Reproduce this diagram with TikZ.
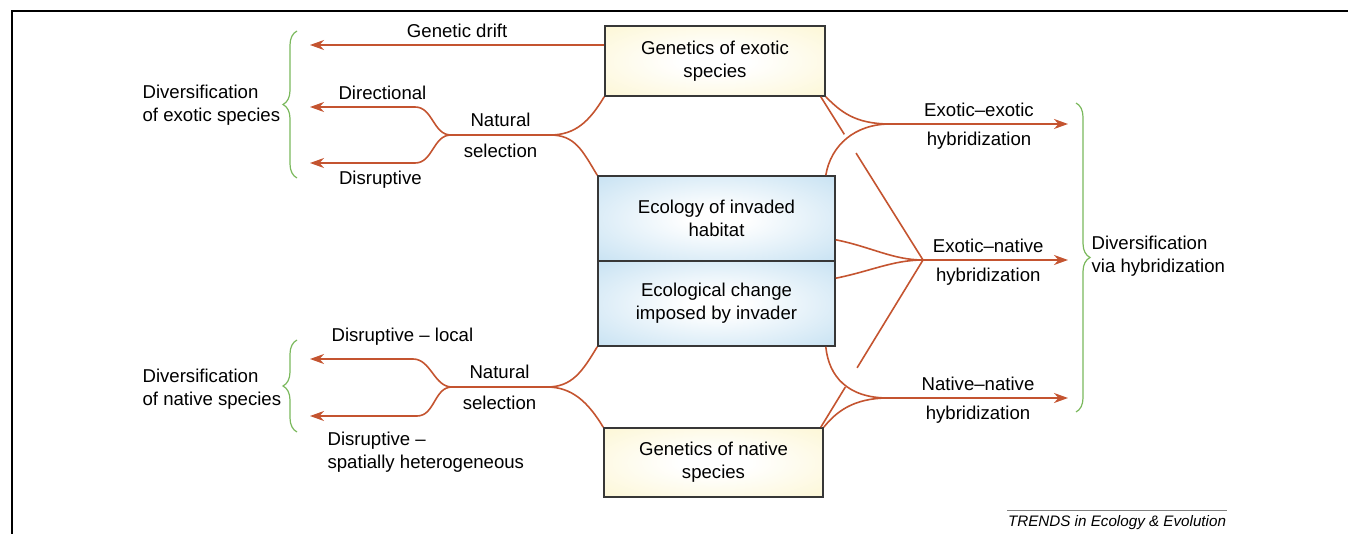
\documentclass[tikz,border=0pt]{standalone}
\usepackage{fontspec}
\setmainfont{Liberation Sans}
\usetikzlibrary{arrows.meta, calc, decorations.pathreplacing}

\definecolor{hybred}{RGB}{196,84,48}
\definecolor{bracegreen}{RGB}{122,184,92}
\definecolor{boxedge}{RGB}{55,55,55}
\definecolor{cream}{RGB}{252,244,200}
\definecolor{paleblue}{RGB}{188,220,240}
\pgfdeclareradialshading{creamglow}{\pgfpoint{0bp}{0bp}}{color(0bp)=(white); color(8bp)=(white); color(45bp)=(cream); color(50bp)=(cream)}
\pgfdeclareradialshading{blueglow}{\pgfpoint{0bp}{0bp}}{color(0bp)=(white); color(6bp)=(white); color(42bp)=(paleblue); color(50bp)=(paleblue)}

\begin{document}
\begin{tikzpicture}[
            x = 0.5pt, y = -0.5pt, % one unit per pixel, y down
            > = {Stealth[length=7pt, width=5pt, inset=2.2pt]}, % arrow head style
            font = \fontsize{9.3}{11.5}\selectfont,
            semithick, % line style
        ]

        \tikzstyle{genes}=[
            draw = boxedge,
            line width = 0.8pt,
            shade, shading = creamglow,
            align = center,
            minimum width = 110pt,
            minimum height = 35pt
        ]
        \tikzstyle{habitat}=[
            draw = boxedge,
            line width = 0.8pt,
            shade, shading = blueglow,
            align = center,
            minimum width = 118.5pt,
            minimum height = 42.5pt
        ]
        \tikzstyle{flow}=[draw = hybred, line width = 0.8pt]
        \tikzstyle{curly}=[draw = bracegreen, line width = 0.6pt, decorate, decoration = {brace, amplitude = 7pt}]
        \tikzstyle{txt}=[inner sep = 2pt, align = left]
        \tikzstyle{onarrow}=[inner sep = 3.4pt]

        \useasboundingbox (0,0) rectangle (1348,534);
        \draw[line width = 0.6pt] (1348,11) -- (12,11) -- (12,534);

        % boxes
        \node[genes] (exo) at (715,61) {Genetics of exotic\\species};
        \node[habitat] (hab) at (716.5,218.5) {Ecology of invaded\\habitat};
        \node[habitat] (chg) [below of=hab, node distance=42.5pt] {Ecological change\\imposed by invader};
        \node[genes, minimum width = 109.5pt, minimum height = 34.5pt] (nat) at (713.5,462.5) {Genetics of native\\species};

        % free ends
        \coordinate (drift) at (310,45);
        \coordinate (selA) at (451,135);
        \coordinate (selB) at (550,135);
        \coordinate (dirbend) at (415,107);
        \coordinate (dirtip) at (310,107);
        \coordinate (disbend) at (415,163);
        \coordinate (distip) at (310,163);
        \coordinate (selC) at (452,387);
        \coordinate (selD) at (547,387);
        \coordinate (locbend) at (413,359);
        \coordinate (loctip) at (310,359);
        \coordinate (hetbend) at (417,416);
        \coordinate (hettip) at (310,416);
        \coordinate (ee) at (890,124);
        \coordinate (eetip) at (1068,124);
        \coordinate (en) at (923,260);
        \coordinate (entip) at (1068,260);
        \coordinate (nn) at (888,398);
        \coordinate (nntip) at (1068,398);
        \coordinate (exoleg) at ([xshift=-2.5pt]exo.south east);
        \coordinate (natleg) at ([xshift=-1.5pt]nat.north east);

        % exotic side
        \draw[flow, ->] (exo.west |- drift) -- node[onarrow, above] {Genetic drift} (drift);
        \draw[flow] (selA) -- node[inner sep = 4pt, above] {Natural} node[inner sep = 4pt, below] {selection} (selB);
        \draw[flow] (selB) .. controls +(25,0) and +(-15,25) .. (exo.south west);
        \draw[flow] (selB) .. controls +(25,0) and +(-15,-25) .. (hab.north west);
        \draw[flow, ->] (selA) .. controls +(-18,0) and +(18,0) .. (dirbend) -- node[onarrow, above, pos=0.31] {Directional} (dirtip);
        \draw[flow, ->] (selA) .. controls +(-18,0) and +(18,0) .. (disbend) -- node[onarrow, below, pos=0.33] {Disruptive} (distip);

        % native side
        \draw[flow] (selC) -- node[inner sep = 4pt, above] {Natural} node[inner sep = 4pt, below] {selection} (selD);
        \draw[flow] (selD) .. controls +(25,0) and +(-15,25) .. (chg.south west);
        \draw[flow] (selD) .. controls +(25,0) and +(-15,-25) .. (nat.north west);
        \draw[flow, ->] (selC) .. controls +(-18,0) and +(18,0) .. (locbend) -- (loctip);
        \draw[flow, ->] (selC) .. controls +(-18,0) and +(18,0) .. (hetbend) -- (hettip);
        \node[txt, anchor=west] (loclbl) at (327,337) {Disruptive – local};
        \node[txt, anchor=west] (hetlbl) at (323,452) {Disruptive –\\spatially heterogeneous};

        % hybridization
        \draw[flow] (exoleg) -- ($(exoleg)!0.23!(en)$) ($(exoleg)!0.345!(en)$) -- (en);
        \draw[flow] (natleg) -- ($(natleg)!0.24!(en)$) ($(natleg)!0.355!(en)$) -- (en);
        \draw[flow] (exo.south east) .. controls +(15,15) and +(-35,0) .. (ee);
        \draw[flow] ([xshift=-5pt]hab.north east) .. controls +(5,-30) and +(-35,0) .. (ee);
        \draw[flow, ->] (ee) -- node[onarrow, above] {Exotic–exotic} node[onarrow, below] {hybridization} (eetip);
        \draw[flow] ([yshift=11pt]hab.south east) .. controls +(35,7) and +(-30,0) .. (en);
        \draw[flow] ([yshift=-9pt]chg.north east) .. controls +(35,-7) and +(-30,0) .. (en);
        \draw[flow, ->] (en) -- node[onarrow, above, pos=0.45] {Exotic–native} node[onarrow, below, pos=0.45] {hybridization} (entip);
        \draw[flow] ([xshift=-5pt]chg.south east) .. controls +(3,30) and +(-40,0) .. (nn);
        \draw[flow] (nat.north east) .. controls +(12,-15) and +(-35,0) .. (nn);
        \draw[flow, ->] (nn) -- node[onarrow, above] {Native–native} node[onarrow, below] {hybridization} (nntip);

        % braces
        \draw[curly] (297,178) -- (297,31);
        \draw[curly] (297,432) -- (297,340);
        \draw[curly] (1076,103) -- (1076,412);
        \node[txt, anchor=west] (exodiv) at (138,105.5) {Diversification\\of exotic species};
        \node[txt, anchor=west] (natdiv) at (138,389) {Diversification\\of native species};
        \node[txt, anchor=west] (hybdiv) at (1087,256) {Diversification\\via hybridization};

        % source line
        \node[inner sep = 0pt, font = \fontsize{7.6}{9}\selectfont\itshape] (trends) at (1117,523) {TRENDS in Ecology \& Evolution};
        \draw[gray, line width = 0.5pt] ([yshift=2.5pt]trends.north west) -- ([yshift=2.5pt]trends.north east);
    \end{tikzpicture}
\end{document}
